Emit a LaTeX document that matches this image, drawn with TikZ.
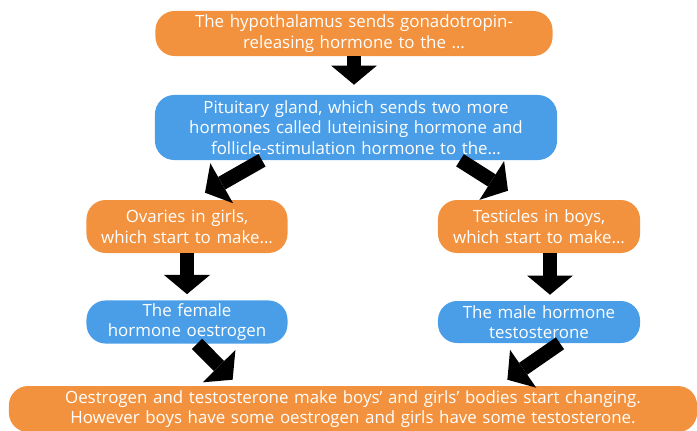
\documentclass[tikz,border=0pt]{standalone}
\usepackage{fontspec}
\setmainfont{Open Sans}
\usepackage{xcolor}
\usetikzlibrary{arrows.meta,positioning,calc}
\definecolor{laranja}{RGB}{243,146,62}
\definecolor{azul}{RGB}{74,158,232}
\tikzset{
    bloco/.style={
        rectangle,
        rounded corners=0.48cm,
        align=center,
        text=white,
        inner xsep=0pt,
        inner ysep=2pt
    },
    etapaLaranja/.style={bloco, fill=laranja},
    etapaAzul/.style={bloco, fill=azul},
    fluxo/.style={
        -{Triangle[length=0.48cm,width=1.15cm,line width=0pt]},
        line width=0.36cm,
        black
    }
}

\begin{document}
\begin{tikzpicture}[x=0.025cm, y=-0.025cm,
        font=\fontsize{12}{14.6}\selectfont]
        \useasboundingbox (0,0) rectangle (697,430);
        \clip (0,0) rectangle (697,430);

        \node[etapaLaranja, text width=9.925cm, minimum height=1.125cm] (hipotalamo)
            at (354,33.5)
            {The hypothalamus sends gonadotropin-\\releasing hormone to the \dots};
        \node[etapaAzul, text width=10.05cm, minimum height=1.625cm] (hipofise)
            at (356,127.5)
            {Pituitary gland, which sends two more\\hormones called luteinising hormone and\\follicle-stimulation hormone to the\dots};
        \node[etapaLaranja, text width=5.025cm, minimum height=1.325cm] (ovarios)
            at (187,226.5)
            {Ovaries in girls,\\which start to make\dots};
        \node[etapaLaranja, text width=5.05cm, minimum height=1.325cm] (testiculos)
            at (539,226.5)
            {Testicles in boys,\\which start to make\dots};
        \node[etapaAzul, text width=5.025cm, minimum height=1.05cm] (estrogenio)
            at (187,322)
            {The female\\hormone oestrogen};
        \node[etapaAzul, text width=5.05cm, minimum height=1.05cm] (testosterona)
            at (539,322)
            {The male hormone\\testosterone};
        \node[etapaLaranja, text width=17.2cm, minimum height=1.15cm] (mudanca)
            at (353,409)
            {Oestrogen and testosterone make boys’ and girls’ bodies start changing.\\However boys have some oestrogen and girls have some testosterone.};

        \draw[fluxo, shorten >=0.25cm] (hipotalamo.south) -- (hipotalamo.south |- hipofise.north);
        \draw[fluxo] ($(hipofise.south)+(-94,0)$) -- ($(ovarios.north)+(18,-7)$);
        \draw[fluxo] ($(hipofise.south)+(104,0)$) -- ($(testiculos.north)+(-31,-9)$);
        \draw[fluxo, shorten >=0.15cm] (ovarios.south) -- (estrogenio.north);
        \draw[fluxo] ($(testiculos.south)+(11,0)$) -- ($(testosterona.north)+(11,-6)$);
        \draw[fluxo] ($(estrogenio.south)+(10,0)$) -- ($(mudanca.north west)+(224,-6)$);
        \draw[fluxo] ($(testosterona.south)+(21,0)$) -- ($(mudanca.north east)+(-190,-6)$);
    \end{tikzpicture}
\end{document}
